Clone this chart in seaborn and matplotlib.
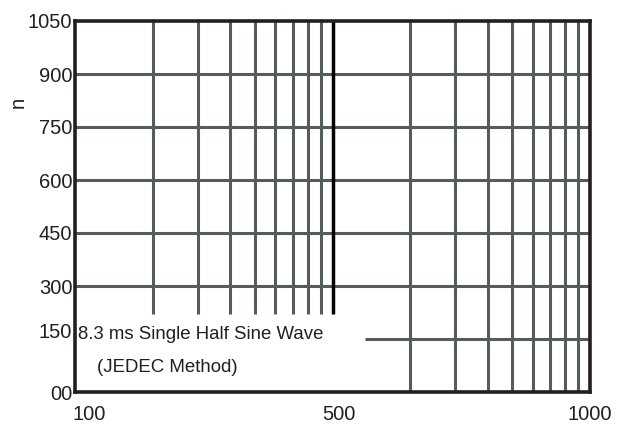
import matplotlib
matplotlib.use("Agg")
import matplotlib.pyplot as plt
import matplotlib.transforms as mtransforms
import seaborn as sns

# ---- data ----
x_tick_pos = [1, 10, 100]
x_tick_labels = ["100", "500", "1000"]
y_tick_pos = [0, 150, 300, 450, 600, 750, 900, 1050]
y_tick_labels = ["00", "150", "300", "450", "600", "750", "900", "1050"]
x_lines_first = [2, 3, 4, 5, 6, 7, 8, 9]          # cut off above the note
x_line_bold = [10]
x_lines_second = [20, 30, 40, 50, 60, 70, 80, 90]  # full height
y_lines_full = [300, 450, 600, 750, 900]
y_line_partial = [150]
cut_low = 221          # lower end of first-decade lines
partial_start = 13.4   # start of the 150 line
note_line1 = "8.3 ms Single Half Sine Wave"
note_line2 = "(JEDEC Method)"
y_label = "n"

sns.set_theme(style="white")
plt.rcParams['font.family'] = ['Liberation Sans', 'DejaVu Sans']

fig = plt.figure(figsize=(6.26, 4.29), dpi=100)
ax = fig.add_axes([75/626, 37/429, 515/626, 371/429])
ax.set_xscale("log")
ax.set_xlim(1, 100)
ax.set_ylim(0, 1050)

grid_c = "#565c5e"
lw = 2.2
ax.vlines(x_lines_first, cut_low, 1050, color=grid_c, lw=lw, zorder=2)
ax.vlines(x_line_bold, cut_low, 1050, color="black", lw=lw+0.3, zorder=3)
ax.vlines(x_lines_second, 0, 1050, color=grid_c, lw=lw, zorder=2)
ax.hlines(y_lines_full, 1, 100, color=grid_c, lw=lw, zorder=2)
ax.hlines(y_line_partial, partial_start, 100, color=grid_c, lw=lw, zorder=2)

for s in ax.spines.values():
    s.set_visible(True)
    s.set_color("#231f20")
    s.set_linewidth(2.6)
    s.set_zorder(4)

ax.set_xticks(x_tick_pos)
ax.set_xticklabels(x_tick_labels, fontsize=14.5, color="#231f20")
ax.xaxis.set_minor_locator(matplotlib.ticker.NullLocator())
ax.set_yticks(y_tick_pos)
ax.set_yticklabels(y_tick_labels, fontsize=14.5, color="#231f20")
ax.tick_params(axis="x", length=0, pad=9)
ax.tick_params(axis="y", length=0, pad=2)
ax.grid(False)

xl = ax.get_xticklabels()
xl[0].set_ha("left")
xl[0].set_transform(xl[0].get_transform() + mtransforms.ScaledTranslation(-3/100, 0, fig.dpi_scale_trans))
xl[1].set_transform(xl[1].get_transform() + mtransforms.ScaledTranslation(6/100, 0, fig.dpi_scale_trans))
yl = ax.get_yticklabels()
yl[1].set_transform(yl[1].get_transform() + mtransforms.ScaledTranslation(0, 9/100, fig.dpi_scale_trans))

ax.set_ylabel(y_label, fontsize=14.5, color="#231f20")
ax.yaxis.set_label_coords(-0.092, 0.78)

ax.text(0.006, 0.156, note_line1, transform=ax.transAxes, fontsize=13.4,
        color="#231f20", ha="left", va="center")
ax.text(0.043, 0.065, note_line2, transform=ax.transAxes, fontsize=13.4,
        color="#231f20", ha="left", va="center")

fig.savefig("out.png", dpi=100)
